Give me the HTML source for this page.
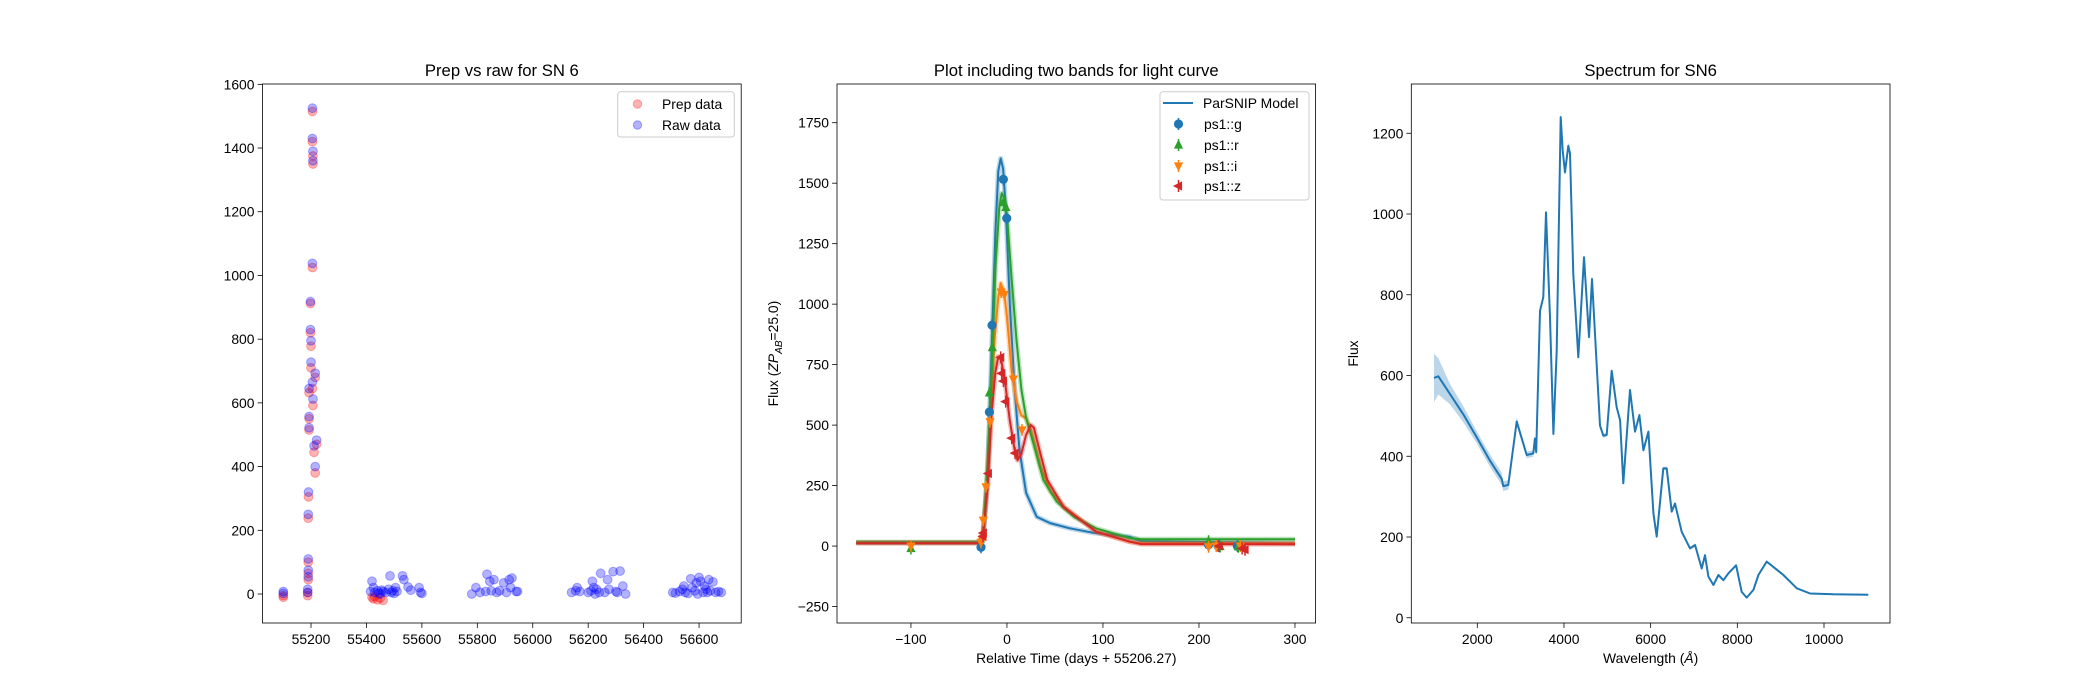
<!DOCTYPE html>
<html><head><meta charset="utf-8"><style>
body{margin:0;background:#fff;}
svg{display:block;font-family:"Liberation Sans","DejaVu Sans",sans-serif;}
</style></head><body>
<svg id="fig" width="2100" height="700" xmlns="http://www.w3.org/2000/svg"></svg>
<script>
// ---- Panel 1 data (MJD, flux) ----
const rawPeakMjd = [55205,55205,55207,55207,55205,55198,55198,55200,55200,55215,55205,55193,55207,55193,55193,55220,55211,55215,55191,55190,55190,55190,55190,55188,55188,55100,55100];
const rawPeakVal = [1525,1430,1390,1360,1038,918,830,795,728,693,665,645,612,557,522,483,465,400,320,250,110,75,54,15,5,8,2];
const prepPeakVal = [1515,1420,1375,1350,1025,912,820,778,710,680,645,632,592,550,515,470,445,380,305,238,100,65,45,5,-5,-5,-10];
const prepLowMjd = [55420,55425,55430,55440,55450,55460];
const prepLowVal = [-10,-15,-8,-18,-12,-20];
const clusterMjd = [55420,55425,55430,55440,55450,55460,55470,55480,55485,55490,55495,55500,55505,55510,55530,55535,55550,55560,55590,55595,55600,55415,55445,55455,
 55780,55795,55810,55830,55835,55845,55850,55860,55870,55880,55895,55905,55915,55920,55925,55940,55945,
 56140,56155,56160,56170,56200,56210,56215,56220,56225,56230,56240,56245,56260,56270,56275,56290,56300,56305,56315,56325,56335,
 56505,56515,56530,56540,56550,56560,56570,56575,56585,56590,56600,56605,56615,56625,56630,56635,56640,56650,56660,56670,56680,56545,56595,56620];
const clusterVal = [40,20,5,10,0,8,5,15,57,5,10,2,20,8,57,45,22,12,20,5,2,8,3,12,
 0,20,5,8,62,40,10,45,5,10,35,5,45,20,50,8,8,
 5,10,20,8,5,10,40,20,0,15,5,65,5,45,15,70,8,5,72,25,0,
 5,3,8,15,5,2,48,20,10,35,52,40,5,15,5,45,10,38,5,8,5,25,0,25];
const p1XTicks = [55200,55400,55600,55800,56000,56200,56400,56600];
const p1YTicks = [0,200,400,600,800,1000,1200,1400,1600];

// ---- Panel 2 data ----
const gModelT = [-157,-30,-25,-20,-16,-12,-9,-6.5,-4,-1,3,8,13,20,31,45,65,90,128,140,300];
const gModelV = [15,15,20,300,800,1300,1550,1602,1560,1380,1000,650,400,220,121,95,74,55,38,20,12];
const rModelT = [-157,-30,-25,-20,-16,-12,-8,-5.5,-3,0,5,10,15,20,28,38,52,70,93,128,140,300];
const rModelV = [15,15,20,350,700,1150,1400,1458,1440,1370,1100,850,650,530,420,273,183,120,73,33,28,28];
const iModelT = [-157,-30,-25,-21,-17,-13,-9,-6.5,-3,0,5,10,15,20,25,35,45,60,93,128,140,300];
const iModelV = [15,15,60,245,514,850,1030,1087,1050,950,720,600,540,528,480,330,230,160,60,18,11,11];
const zModelT = [-157,-30,-25,-20,-16,-12,-9,-6,-2,3,8,11,15,20,25,28,35,42,59,93,128,140,300];
const zModelV = [12,12,40,250,550,720,783,770,680,520,400,355,380,460,500,490,380,273,162,59,18,8,8];
const gObsT = [-27,-18.3,-15.5,-3.7,-0.2,210,220,240];
const gObsV = [-5,554,913,1516,1355,5,0,0];
const rObsT = [-100,-18.3,-15.2,-3.7,-1.1,210,222,241];
const rObsV = [-10,633,820,1420,1400,20,-2,-3];
const iObsT = [-100,-27,-24.6,-21.8,-17.6,-6,-2.7,6.7,15.7,210,218,243];
const iObsV = [0,15,107,245,514,1050,1040,690,480,-3,0,0];
const zObsT = [-25,-24.6,-19.4,-6.5,-5.5,-3.7,-1.3,5,8.5,221,245,248];
const zObsV = [40,54,300,780,714,682,597,446,384,0,-10,-15];
const p2XTicks = [-100,0,100,200,300];
const p2YTicks = [-250,0,250,500,750,1000,1250,1500,1750];

// ---- Panel 3 data ----
const specW = [1000,1100,1370,1677,1986,2293,2563,2600,2716,2910,3140,3292,3330,3360,3447,3524,3586,3678,3755,3832,3925,3971,4024,4100,4140,4216,4331,4463,4578,4647,4832,4908,4985,5102,5217,5294,5370,5524,5640,5740,5832,5947,6063,6140,6293,6370,6486,6563,6717,6909,7025,7179,7255,7332,7447,7563,7678,7794,7971,8102,8217,8371,8486,8679,9064,9372,9679,10218,11023];
const specF = [594,598,554,504,447,389,344,326,329,486,403,407,444,410,760,794,1004,744,455,661,1240,1157,1103,1169,1150,851,645,893,695,839,476,451,453,612,521,489,333,564,461,502,415,461,259,201,370,370,263,283,213,172,180,122,155,102,81,106,93,110,130,64,50,69,106,139,106,73,60,58,57];
const specErr = [60,45,25,20,15,15,15,12,12,10,8,8,8,8,8,8,8,8,8,8,8,8,8,8,8,6,6,6,6,6,5,5,5,5,5,5,5,5,5,5,5,5,4,4,4,4,4,4,4,4,4,3,3,3,3,3,3,3,3,3,3,3,3,3,3,2,2,2,2];
const p3XTicks = [2000,4000,6000,8000,10000];
const p3YTicks = [0,200,400,600,800,1000,1200];

const NS = "http://www.w3.org/2000/svg";
const svg = document.getElementById('fig');
function mk(tag, attrs, parent){const e=document.createElementNS(NS,tag);for(const k in attrs)e.setAttribute(k,attrs[k]);(parent||svg).appendChild(e);return e;}
function lin(d0,d1,r0,r1){return v=>r0+(v-d0)*(r1-r0)/(d1-d0);}

function axes(name,L,R,T,B,xs,ys,xt,yt,title,xlabel,ylabel){
  const g=mk('g',{});
  
  
  const t=mk('text',{x:(L+R)/2,y:76,'text-anchor':'middle','font-size':'16.7'},g);t.textContent=title;
  
  
  xt.forEach(v=>{const x=xs(v);mk('line',{x1:x,x2:x,y1:B,y2:B+4.9,stroke:'#000','stroke-width':0.8},g);
    const tx=mk('text',{x:x,y:B+21,'text-anchor':'middle','font-size':'13.9'},g);tx.textContent=String(v).replace('-','\u2212');
    
    });
  yt.forEach(v=>{const y=ys(v);mk('line',{x1:L-4.9,x2:L,y1:y,y2:y,stroke:'#000','stroke-width':0.8},g);
    const tx=mk('text',{x:L-8,y:y+5,'text-anchor':'end','font-size':'13.9'},g);tx.textContent=String(v).replace('-','\u2212');
    
    });
  if(xlabel){const xl=mk('text',{x:(L+R)/2,y:B+40,'text-anchor':'middle','font-size':'13.9'},g);xl.innerHTML=xlabel;
    
    }
  if(ylabel){const cx=ylabel.x, cy=(T+B)/2;const yl=mk('text',{x:cx,y:cy,'text-anchor':'middle','font-size':'13.9',transform:`rotate(-90 ${cx} ${cy})`},g);yl.innerHTML=ylabel.t;
    
    }
  return g;
}
function frame(L,R,T,B){const r=mk('rect',{x:L,y:T,width:R-L,height:B-T,fill:'none',stroke:'#000','stroke-width':0.8});
  
  }
function clip(id,L,R,T,B){const d=mk('defs',{});const c=mk('clipPath',{id:id},d);mk('rect',{x:L,y:T,width:R-L,height:B-T},c);}

// ---------- Panel 1 ----------
{
 const L=262.5,R=741.2,T=84,B=623;
 const xs=lin(55025,56752,L,R), ys=lin(-91,1601,B,T);
 axes('prep-vs-raw-panel',L,R,T,B,xs,ys,p1XTicks,p1YTicks,'Prep vs raw for SN 6',null,null);
 const gp=mk('g',{});
 
 
 const dot=(g,x,y,c)=>{const e=mk('circle',{cx:xs(x),cy:ys(y),r:4.4,fill:c,'fill-opacity':0.3,stroke:c,'stroke-opacity':0.3,'stroke-width':1},g);
   
   };
 rawPeakMjd.forEach((m,i)=>dot(gp,m,prepPeakVal[i],'#ff0000'));
 prepLowMjd.forEach((m,i)=>dot(gp,m,prepLowVal[i],'#ff0000'));
 const gr=mk('g',{});
 
 
 rawPeakMjd.forEach((m,i)=>dot(gr,m,rawPeakVal[i],'#0000ff'));
 clusterMjd.forEach((m,i)=>dot(gr,m,clusterVal[i],'#0000ff'));
 frame(L,R,T,B);
 const lg=mk('g',{});
 
 
 mk('rect',{x:617.7,y:91.7,width:116.6,height:45.3,rx:3,fill:'#fff','fill-opacity':0.8,stroke:'#ccc'},lg);
 [['Prep data','#ff0000',104],['Raw data','#0000ff',125]].forEach(([t,c,y])=>{
   mk('circle',{cx:637.5,cy:y,r:4.2,fill:c,'fill-opacity':0.3,stroke:c,'stroke-opacity':0.3},lg);
   const tx=mk('text',{x:662,y:y+5,'font-size':'13.9'},lg);tx.textContent=t;
   
   });
}

// ---------- Panel 2 ----------
{
 const L=837,R=1315.6,T=84,B=623;
 const xs=lin(-177,321.5,L,R), ys=lin(-318,1910,B,T);
 axes('light-curve-panel',L,R,T,B,xs,ys,p2XTicks,p2YTicks,'Plot including two bands for light curve','Relative Time (days + 55206.27)',{x:778,t:'Flux (<tspan font-style="italic">ZP</tspan><tspan font-size="10" dy="4" font-style="italic">AB</tspan><tspan dy="-4">=25.0)</tspan>'});
 clip('c2',L,R,T,B);
 const cg=mk('g',{'clip-path':'url(#c2)'});
 const curve=(T_,V_,c,name)=>{const d=T_.map((t,i)=>(i?'L':'M')+xs(t).toFixed(1)+' '+ys(V_[i]).toFixed(1)).join(' ');
   mk('path',{d:d,fill:'none',stroke:c,'stroke-opacity':0.3,'stroke-width':5,'stroke-linejoin':'round'},cg);
   const p=mk('path',{d:d,fill:'none',stroke:c,'stroke-width':2,'stroke-linejoin':'round'},cg);
   
   };
 curve(gModelT,gModelV,'#1f77b4','model-curve-g');
 curve(iModelT,iModelV,'#ff7f0e','model-curve-i');
 curve(rModelT,rModelV,'#2ca02c','model-curve-r');
 curve(zModelT,zModelV,'#d62728','model-curve-z');
 const marker=(g,x,y,c,shape)=>{const s=4.6;let e;
   mk('line',{x1:x,x2:x,y1:y-6,y2:y+6,stroke:c,'stroke-width':1.5},g);
   if(shape==='o') e=mk('circle',{cx:x,cy:y,r:s,fill:c},g);
   else if(shape==='^') e=mk('polygon',{points:`${x},${y-s-1} ${x-s},${y+s-1} ${x+s},${y+s-1}`,fill:c},g);
   else if(shape==='v') e=mk('polygon',{points:`${x},${y+s+1} ${x-s},${y-s+1} ${x+s},${y-s+1}`,fill:c},g);
   else e=mk('polygon',{points:`${x-s-1},${y} ${x+s-1},${y-s} ${x+s-1},${y+s}`,fill:c},g);
   return e;};
 const obs=(T_,V_,c,shape,name)=>{const g=mk('g',{},cg);
   
   
   T_.forEach((t,i)=>{const e=marker(g,xs(t),ys(V_[i]),c,shape);
     
     });};
 obs(gObsT,gObsV,'#1f77b4','o','ps1-g-points');
 obs(rObsT,rObsV,'#2ca02c','^','ps1-r-points');
 obs(iObsT,iObsV,'#ff7f0e','v','ps1-i-points');
 obs(zObsT,zObsV,'#d62728','<','ps1-z-points');
 frame(L,R,T,B);
 const lg=mk('g',{});
 
 
 mk('rect',{x:1160,y:91.7,width:149,height:108.3,rx:3,fill:'#fff','fill-opacity':0.8,stroke:'#ccc'},lg);
 mk('line',{x1:1163,x2:1193,y1:103,y2:103,stroke:'#1f77b4','stroke-width':2},lg);
 const items=[['ParSNIP Model',103,null,null],['ps1::g',124,'#1f77b4','o'],['ps1::r',145,'#2ca02c','^'],['ps1::i',166,'#ff7f0e','v'],['ps1::z',186,'#d62728','<']];
 items.forEach(([t,y,c,s])=>{if(c)marker(lg,1178.5,y,c,s);
   const tx=mk('text',{x:t==='ParSNIP Model'?1203:1204,y:y+5,'font-size':'13.9'},lg);tx.textContent=t;
   
   });
}

// ---------- Panel 3 ----------
{
 const L=1411.3,R=1890,T=84,B=623;
 const xs=lin(477,11523,L,R), ys=lin(-13,1322,B,T);
 axes('spectrum-panel',L,R,T,B,xs,ys,p3XTicks,p3YTicks,'Spectrum for SN6','Wavelength (<tspan font-style="italic">Å</tspan>)',{x:1358,t:'Flux'});
 const up=specW.map((w,i)=>xs(w).toFixed(1)+','+ys(specF[i]+specErr[i]).toFixed(1));
 const dn=specW.map((w,i)=>xs(w).toFixed(1)+','+ys(specF[i]-specErr[i]).toFixed(1)).reverse();
 const band=mk('polygon',{points:up.concat(dn).join(' '),fill:'#1f77b4','fill-opacity':0.3});
 
 
 const d=specW.map((w,i)=>(i?'L':'M')+xs(w).toFixed(1)+' '+ys(specF[i]).toFixed(1)).join(' ');
 const p=mk('path',{d:d,fill:'none',stroke:'#1f77b4','stroke-width':2,'stroke-linejoin':'round'});
 
 
 frame(L,R,T,B);
}
</script>
</body></html>
